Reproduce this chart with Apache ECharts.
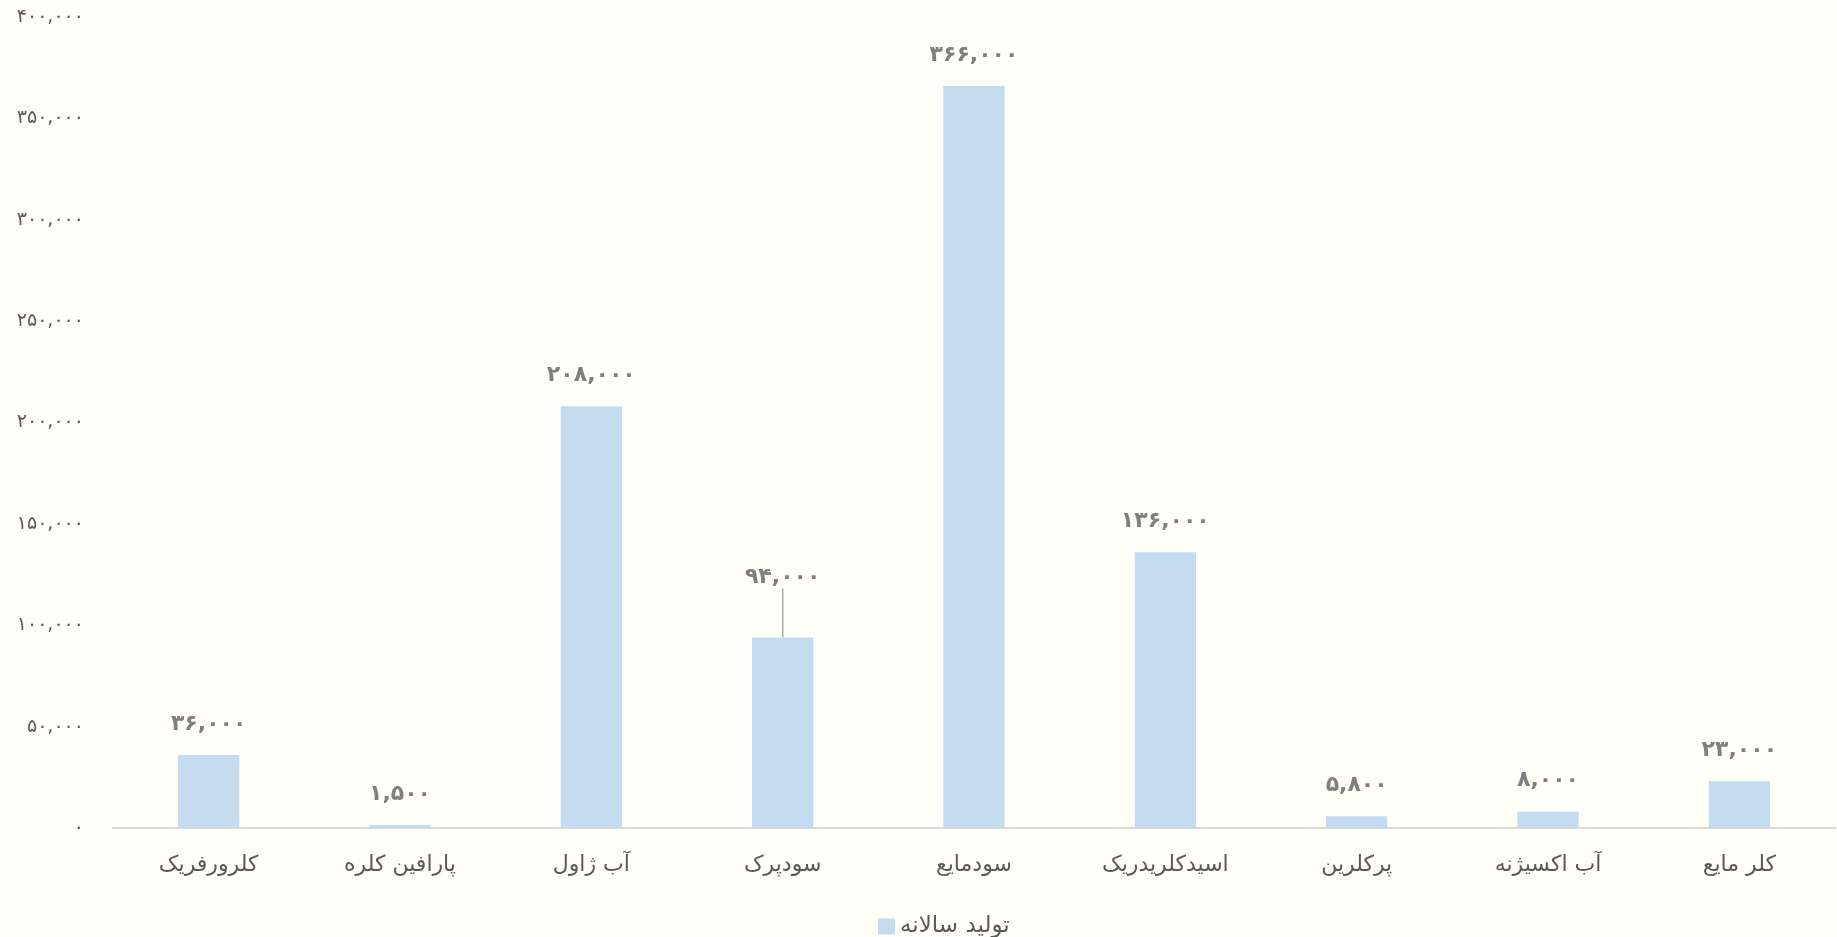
<!DOCTYPE html>
<html>
<head>
<meta charset="utf-8">
<script src="https://cdn.jsdelivr.net/npm/echarts@6/dist/echarts.min.js"></script>
<style>
html,body{margin:0;padding:0;background:#FFFEF7;}
#main{width:1837px;height:937px;}
</style>
</head>
<body>
<div id="main"></div>
<script>
const categories = ['کلرورفریک','پارافین کلره','آب ژاول','سودپرک','سودمایع','اسیدکلریدریک','پرکلرین','آب اکسیژنه','کلر مایع'];
const seriesName = 'تولید سالانه';
const values = [36000, 1500, 208000, 94000, 366000, 136000, 5800, 8000, 23000];
const yTicks = [0, 50000, 100000, 150000, 200000, 250000, 300000, 350000, 400000];
const movedLabelIndex = 3;

function fa(n){
  const s = Number(n).toLocaleString('en-US');
  return s.replace(/[0-9]/g, d => '۰۱۲۳۴۵۶۷۸۹'[+d]);
}
const FONT = '"DejaVu Sans", "Noto Sans", sans-serif';

const barData = values.map((v, i) => i === movedLabelIndex
  ? {value: v, labelLine: {show: true, lineStyle: {color: '#A6A6A6', width: 1.5}}}
  : {value: v});

const chart = echarts.init(document.getElementById('main'));
chart.setOption({
  backgroundColor: '#FFFEF7',
  animation: false,
  textStyle: {fontFamily: FONT},
  grid: {left: 113, right: 2, top: 17, bottom: 109, containLabel: false},
  legend: {
    data: [seriesName],
    left: 873, top: 910,
    itemWidth: 17, itemHeight: 16, itemGap: 8,
    icon: 'rect',
    textStyle: {fontSize: 23, color: '#595959', fontFamily: FONT}
  },
  xAxis: {
    type: 'category',
    data: categories,
    axisLine: {lineStyle: {color: '#D9D9D9', width: 2}},
    axisTick: {show: false},
    axisLabel: {fontSize: 22, color: '#595959', margin: 26, fontFamily: FONT}
  },
  yAxis: {
    type: 'value',
    min: yTicks[0], max: yTicks[yTicks.length-1], interval: yTicks[1]-yTicks[0],
    axisLine: {show: false},
    axisTick: {show: false},
    splitLine: {show: false},
    axisLabel: {fontSize: 19, color: '#595959', margin: 29, formatter: v => fa(v), fontFamily: FONT}
  },
  series: [{
    name: seriesName,
    type: 'bar',
    data: barData,
    barWidth: '32%',
    itemStyle: {color: '#C5DCF0'},
    label: {
      show: true, position: 'top', distance: 20,
      fontSize: 22, fontWeight: 'bold', color: '#7F7F7F', fontFamily: FONT,
      formatter: p => fa(p.value)
    },
    labelLine: {show: false},
    labelLayout: function(params){
      if (params.dataIndex === movedLabelIndex) return {dy: -29};
      return {};
    }
  }]
});
</script>
</body>
</html>
